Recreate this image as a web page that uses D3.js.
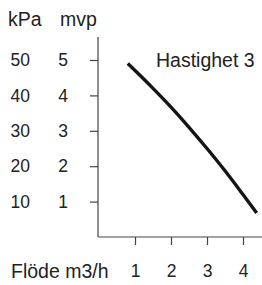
<!DOCTYPE html>
<html><head><meta charset="utf-8">
<script src="https://cdn.jsdelivr.net/npm/d3@7"></script>
<style>
html,body{margin:0;padding:0;background:#fff;}
svg{display:block;font-family:"Liberation Sans",Arial,Helvetica,sans-serif;}
</style></head>
<body>
<svg id="c" width="262" height="285"></svg>
<script>
// Data
const flow = [0.8, 1.5, 2.0, 2.5, 3.0, 3.5, 4.0, 4.38];   // m3/h
const head = [4.9, 4.2, 3.67, 3.1, 2.5, 1.87, 1.2, 0.68]; // mvp
const xTicks = [1, 2, 3, 4];
const mvpTicks = [1, 2, 3, 4, 5];
const kpaTicks = [10, 20, 30, 40, 50];
const seriesLabel = "Hastighet 3";
const xTitle = "Flöde m3/h";
const yTitleKpa = "kPa";
const yTitleMvp = "mvp";

const svg = d3.select("#c");
const x = d3.scaleLinear().domain([0, 4.5]).range([99, 261]);
const y = d3.scaleLinear().domain([0, 5]).range([237, 60]);
const yK = d3.scaleLinear().domain([0, 50]).range([237, 60]);

const axisColor = "#444", textColor = "#222";

// Y axis (mvp) with ticks
const gy = svg.append("g").attr("transform", `translate(${x(0) - 1},0)`)
  .call(d3.axisLeft(y).tickValues(mvpTicks).tickSize(8).tickPadding(22).tickFormat(d3.format("d")));
gy.select(".domain").remove();
gy.append("line").attr("x1", 0).attr("x2", 0).attr("y1", 37).attr("y2", y(0))
  .attr("stroke", axisColor).attr("stroke-width", 1.2);

// kPa labels column
const gk = svg.append("g").attr("transform", `translate(${x(0) - 1},0)`)
  .call(d3.axisLeft(yK).tickValues(kpaTicks).tickSize(0).tickPadding(68).tickFormat(d3.format("d")));
gk.select(".domain").remove();

// X axis
const gx = svg.append("g").attr("transform", `translate(0,${y(0)})`)
  .call(d3.axisBottom(x).tickValues(xTicks).tickSize(8).tickPadding(20).tickFormat(d3.format("d")));
gx.select(".domain").remove();
gx.append("line").attr("x1", x(0) - 1).attr("x2", 262).attr("y1", 0).attr("y2", 0)
  .attr("stroke", axisColor).attr("stroke-width", 1.2);

svg.selectAll(".tick line").attr("stroke", axisColor).attr("stroke-width", 1.2);
svg.selectAll(".tick text").attr("fill", textColor).attr("font-size", 17.5)
  .attr("font-family", '"Liberation Sans",Arial,sans-serif');

// Titles
svg.append("text").attr("x", 8).attr("y", 26).text(yTitleKpa)
  .attr("font-size", 19.5).attr("fill", textColor);
svg.append("text").attr("x", 60).attr("y", 26).text(yTitleMvp)
  .attr("font-size", 19.5).attr("fill", textColor);
svg.append("text").attr("x", 11).attr("y", 278).text(xTitle)
  .attr("font-size", 19.5).attr("fill", textColor);

// Curve
const line = d3.line().x((d, i) => x(flow[i])).y(d => y(d)).curve(d3.curveMonotoneX);
svg.append("path").datum(head).attr("d", line)
  .attr("fill", "none").attr("stroke", "#151515").attr("stroke-width", 3.4);

// Series label
svg.append("text").attr("x", 156).attr("y", 67).text(seriesLabel)
  .attr("font-size", 19.5).attr("fill", textColor);
</script>
</body></html>
